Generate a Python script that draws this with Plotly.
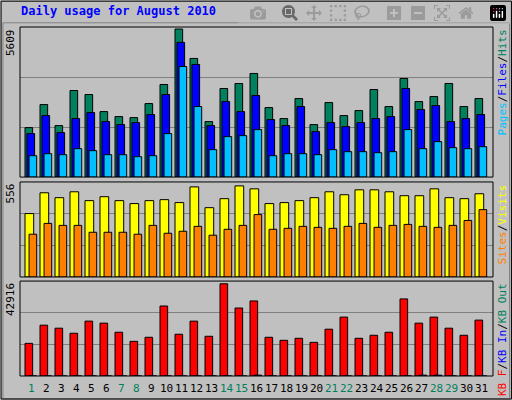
import plotly.graph_objects as go

days = list(range(1, 32))
hits = [1874,2747,1950,3279,3127,2481,2292,2253,2785,3507,5609,4494,2102,3355,3545,3925,2633,2216,2975,1988,2823,2329,2519,3317,2671,3735,2861,3051,3545,2671,2975]
files = [1646,2329,1684,2216,2443,2102,1988,2064,2367,3127,5102,4266,1950,2861,2481,3089,2178,1950,2671,1722,2064,1912,2064,2216,2292,3355,2557,2709,2102,2216,2367]
pages = [810,886,848,1076,1000,848,848,772,810,1646,4190,2671,1038,1532,1570,1798,810,886,886,848,1038,962,962,924,962,1798,1076,1342,1114,1076,1152]
visits = [387,514,484,520,466,490,466,448,466,472,454,550,423,478,556,538,448,454,466,484,520,502,532,532,520,496,496,538,484,478,508]
sites = [261,327,315,315,273,273,273,261,315,267,279,309,255,291,315,381,291,297,309,303,297,309,327,303,315,321,309,303,315,345,411]
kbf = [15190,23650,22240,19890,25530,24590,20360,16130,18010,32570,19420,25530,18480,42916,31630,34920,18010,16600,17540,15660,21770,27400,17540,18950,20360,35860,24590,27400,22240,18950,26000]
kbin = [0]*15 + [400] + [0]*10 + [400, 400] + [0]*3
weekend = {1,7,8,14,15,21,22,28,29}
max_hits, max_visits, max_kb = 5609, 556, 42916

R1, R2, R3 = 5685, 580, 44170
BG = "#C0C0C0"
fig = go.Figure()
def bar(y, color, off, w, ax):
    fig.add_trace(go.Bar(x=days, y=y, marker=dict(color=color, line=dict(color="black", width=1)),
                         offset=off, width=w, xaxis="x", yaxis=ax, showlegend=False))
bar(hits, "#00805c", -0.49, 0.51, "y")
bar(files, "#0000ff", -0.36, 0.51, "y")
bar(pages, "#00c0ff", -0.22, 0.51, "y")
bar(visits, "#ffff00", -0.49, 0.58, "y2")
bar(sites, "#ff8000", -0.22, 0.51, "y2")
bar(kbf, "#ff0000", -0.49, 0.51, "y3")
bar(kbin, "#0000ff", -0.22, 0.51, "y3")

def yax(R, dom):
    return dict(range=[0, R], domain=dom, tickvals=[R/3, 2*R/3], showticklabels=False,
                showgrid=True, gridcolor="#808080", gridwidth=1, zeroline=False, fixedrange=True)
fig.update_layout(
    width=512, height=400, barmode="overlay", plot_bgcolor=BG, paper_bgcolor=BG,
    margin=dict(l=20, r=19, t=27, b=24),
    xaxis=dict(range=[0.177, 31.71], showticklabels=False, showgrid=False, zeroline=False, anchor="y3"),
    yaxis=yax(R1, [0.570, 1.0]), yaxis2=yax(R2, [0.2837, 0.556]), yaxis3=yax(R3, [0.0, 0.272]),
    font=dict(family="DejaVu Sans Mono", size=11),
)
shapes = []
for y0, y1 in [(0.570, 1.0), (0.2837, 0.556), (0.0, 0.272)]:
    shapes.append(dict(type="rect", xref="paper", yref="paper", x0=0, x1=1, y0=y0, y1=y1,
                       line=dict(color="black", width=1)))
shapes.append(dict(type="rect", xref="paper", yref="paper", x0=-0.036, x1=1.035, y0=-0.065, y1=1.012,
                   line=dict(color="#808080", width=1)))
shapes.append(dict(type="rect", xref="paper", yref="paper", x0=-0.04, x1=1.039, y0=-0.066, y1=1.074,
                   line=dict(color="black", width=1)))
fig.update_layout(shapes=shapes)

ann = [dict(text="<b>Daily usage for August 2010</b>", x=-0.002, y=1.045, xref="paper", yref="paper",
            xanchor="left", yanchor="middle", showarrow=False, font=dict(color="#0000ff", size=12))]
for d in days:
    ann.append(dict(text=str(d), x=d - 0.03, y=-0.035, xref="x", yref="paper", showarrow=False,
                    yanchor="middle", font=dict(color="#00805c" if d in weekend else "black", size=11)))
for txt, yv in [(str(max_hits), 1.0), (str(max_visits), 0.556), (str(max_kb), 0.272)]:
    ann.append(dict(text=txt, x=-0.02, y=yv, xref="paper", yref="paper", textangle=-90, showarrow=False,
                    xanchor="center", yanchor="top", font=dict(size=11, color="black")))
right = [
    ("<span style='color:#00c0ff'>Pages</span><span style='color:black'>/</span><span style='color:#0000ff'>Files</span><span style='color:black'>/</span><span style='color:#00805c'>Hits</span>", 1.0),
    ("<span style='color:#ff8000'>Sites</span><span style='color:black'>/</span><span style='color:#ffff00'>Visits</span>", 0.556),
    ("<span style='color:#ff0000'>KB F</span><span style='color:black'>/</span><span style='color:#0000ff'>KB In</span><span style='color:black'>/</span><span style='color:#00805c'>KB Out</span>", 0.272),
]
for txt, yv in right:
    ann.append(dict(text=txt, x=1.02, y=yv, xref="paper", yref="paper", textangle=-90, showarrow=False,
                    xanchor="center", yanchor="top", font=dict(size=11)))
fig.update_layout(annotations=ann)
fig.write_html("out.html")
with open("out.html") as f:
    html = f.read()
html = html.replace("<body>", "<body style='margin:0;padding:0;overflow:hidden'>", 1)
with open("out.html", "w") as f:
    f.write(html)
